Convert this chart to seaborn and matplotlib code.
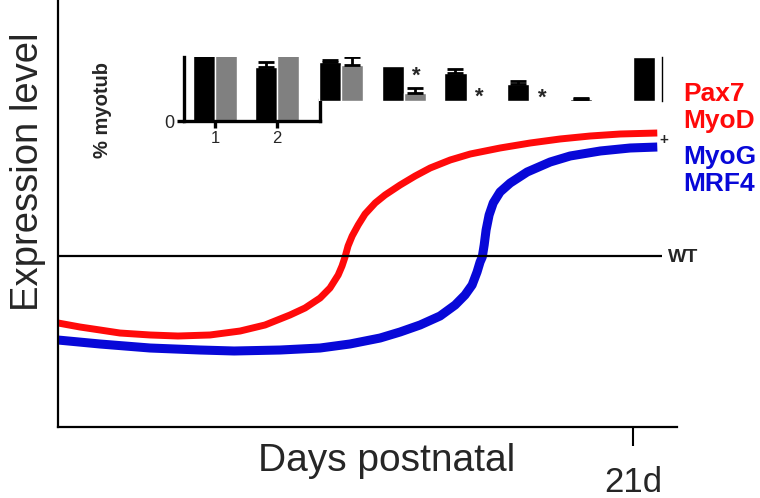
import numpy as np
import pandas as pd
import matplotlib
matplotlib.use("Agg")
import matplotlib.pyplot as plt
import seaborn as sns

# ---------------- data ----------------
red_days = [0, 0.80, 1.53, 2.26, 3.36, 4.38, 5.55, 6.65, 7.56, 8.47, 9.02, 9.57, 9.93, 10.23,
            10.37, 10.48, 10.59, 10.74, 10.96, 11.21, 11.58, 11.94, 12.49, 13.04, 13.59, 14.32,
            15.05, 16.14, 17.24, 18.33, 19.43, 20.53, 21.88]
red_vals = [24.36, 23.42, 22.72, 22.01, 21.55, 21.31, 21.55, 22.48, 23.89, 26.23, 27.87, 30.21,
            32.55, 35.60, 37.70, 39.81, 42.39, 44.73, 47.31, 49.88, 52.46, 54.33, 56.67, 58.78,
            60.66, 62.53, 63.93, 65.34, 66.51, 67.45, 68.15, 68.62, 68.85]
blue_days = [0, 1.53, 3.36, 5.19, 6.43, 8.11, 9.57, 10.66, 11.76, 12.49, 13.22, 13.95, 14.50,
             14.86, 15.12, 15.30, 15.41, 15.49, 15.56, 15.63, 15.74, 15.89, 16.14, 16.51, 17.13,
             17.97, 18.70, 19.80, 20.89, 21.88]
blue_vals = [20.37, 19.44, 18.50, 18.03, 17.80, 18.03, 18.50, 19.44, 20.84, 22.25, 23.89, 26.00,
             28.57, 30.91, 33.26, 36.30, 38.64, 39.81, 42.62, 46.14, 49.65, 52.46, 55.04, 57.14,
             59.72, 62.06, 63.47, 64.64, 65.34, 65.57]
wt_level = 40
wt_end = 22.06

left_groups = ["1", "2"]
left_black = [80, 42]
left_gray = [80, 80]
left_black_err = [0, 4]

right_groups = ["3", "4", "5", "6", "7", "8"]
right_black = [89, 80, 64, 39, 5, 100]
right_gray = [82, 18, 0, 0, 1, 0]
right_black_err = [4, 0, 9, 6, 2, 0]
right_gray_err = [18, 12, 0, 0, 0, 0]
right_stars_group = [1, 2, 3]
right_stars_y = [57, 9, 7]

legend_red = ["Pax7", "MyoD"]
legend_blue = ["MyoG", "MRF4"]

# ---------------- style ----------------
sns.set_theme(style="white")
plt.rcParams["font.family"] = ["Liberation Sans", "DejaVu Sans"]

W, H = 760, 498
fig = plt.figure(figsize=(7.6, 4.98), dpi=100)

def px_axes(x0, y0, x1, y1):
    return fig.add_axes([x0 / W, 1 - y1 / H, (x1 - x0) / W, (y1 - y0) / H])

def up_errorbars(axis, xpos, vals, errs):
    xpos = np.asarray(xpos, dtype=float)
    vals = np.asarray(vals, dtype=float)
    errs = np.asarray(errs, dtype=float)
    m = errs > 0
    if m.any():
        axis.errorbar(xpos[m], vals[m], yerr=[np.zeros(m.sum()), errs[m]], fmt="none",
                      ecolor="black", elinewidth=2, capsize=6, capthick=2)

RED = "#ff0a0a"
BLUE = "#0808d8"

# ---------------- main axes ----------------
ax = px_axes(58, 0, 677, 427)
ax.set_facecolor("white")
sns.lineplot(x=red_days, y=red_vals, ax=ax, color=RED, linewidth=5, sort=False,
             solid_capstyle="butt", solid_joinstyle="round")
sns.lineplot(x=blue_days, y=blue_vals, ax=ax, color=BLUE, linewidth=6.5, sort=False,
             solid_capstyle="butt", solid_joinstyle="round")
ax.hlines(wt_level, 0, wt_end, color="black", linewidth=1.6)
ax.set_xlim(0, 22.6)
ax.set_ylim(0, 100)
for s in ["top", "right"]:
    ax.spines[s].set_visible(False)
for s in ["left", "bottom"]:
    ax.spines[s].set_color("black")
    ax.spines[s].set_linewidth(1.6)
ax.set_yticks([])
ax.set_xticks([21])
ax.set_xticklabels(["21d"], fontsize=25)
ax.tick_params(axis="x", direction="out", length=14, width=1.5, color="black", pad=14,
               bottom=True)
ax.set_xlabel("")
ax.set_ylabel("")

fig.text(387 / W, 1 - 461 / H, "Days postnatal", fontsize=28, ha="center", va="center")
fig.text(28 / W, 1 - 172 / H, "Expression level", fontsize=27.5, ha="center", va="center",
         rotation=90)
fig.text(668 / W, 1 - 257 / H, "WT", fontsize=14, fontweight="bold", ha="left", va="center")

for i, t in enumerate(legend_red):
    fig.text(683 / W, 1 - (94 + 27 * i) / H, t, fontsize=19, fontweight="bold",
             color=RED, ha="left", va="center")
for i, t in enumerate(legend_blue):
    fig.text(683 / W, 1 - (157 + 27 * i) / H, t, fontsize=19, fontweight="bold",
             color=BLUE, ha="left", va="center")

# ---------------- inset left ----------------
axl = px_axes(184, 57, 320, 121)
dfl = pd.DataFrame({
    "group": left_groups * 2,
    "value": left_black + left_gray,
    "cond": ["a"] * len(left_groups) + ["b"] * len(left_groups),
})
sns.barplot(data=dfl, x="group", y="value", hue="cond", palette=["black", "#808080"],
            width=0.71, ax=axl, legend=False, saturation=1, errorbar=None)
xs = np.arange(len(left_groups))
up_errorbars(axl, xs - 0.1775, left_black, left_black_err)
axl.set_xlim(-0.5, 1.69)
axl.set_ylim(0, 50)
axl.patch.set_alpha(0)
axl.spines["top"].set_visible(False)
axl.spines["right"].set_bounds(0, 16.4)
for s in ["left", "bottom", "right"]:
    axl.spines[s].set_color("black")
    axl.spines[s].set_linewidth(2.4)
axl.set_yticks([0])
axl.set_yticklabels(["0"], fontsize=13)
axl.set_xticks(xs)
axl.set_xticklabels(left_groups, fontsize=12)
axl.tick_params(axis="both", direction="out", length=5, width=2.4, color="black", pad=2,
                left=True, bottom=True)
axl.set_xlabel("")
axl.set_ylabel("")
fig.text(103 / W, 1 - 110 / H, "% myotub", fontsize=14.5, fontweight="bold", ha="center",
         va="center", rotation=90)

# ---------------- inset right ----------------
axr = px_axes(318, 57, 662, 101)
dfr = pd.DataFrame({
    "group": right_groups * 2,
    "value": right_black + right_gray,
    "cond": ["a"] * len(right_groups) + ["b"] * len(right_groups),
})
sns.barplot(data=dfr, x="group", y="value", hue="cond", palette=["black", "#808080"],
            width=0.71, ax=axr, legend=False, saturation=1, errorbar=None)
xr = np.arange(len(right_groups))
up_errorbars(axr, xr - 0.1775, right_black, right_black_err)
up_errorbars(axr, xr + 0.1775, right_gray, right_gray_err)
for g, y in zip(right_stars_group, right_stars_y):
    axr.text(g + 0.2, y, "*", fontsize=16, fontweight="bold", ha="center", va="center")
axr.set_xlim(-0.366, 5.11)
axr.set_ylim(0, 100)
axr.patch.set_alpha(0)
for s in ["top", "left", "bottom"]:
    axr.spines[s].set_visible(False)
axr.spines["right"].set_color("black")
axr.spines["right"].set_linewidth(1)
axr.set_xticks([])
axr.set_yticks([])
axr.set_xlabel("")
axr.set_ylabel("")
fig.text(664 / W, 1 - 140 / H, "+", fontsize=11, fontweight="bold", ha="center", va="center")

fig.savefig("out.png", dpi=100)
